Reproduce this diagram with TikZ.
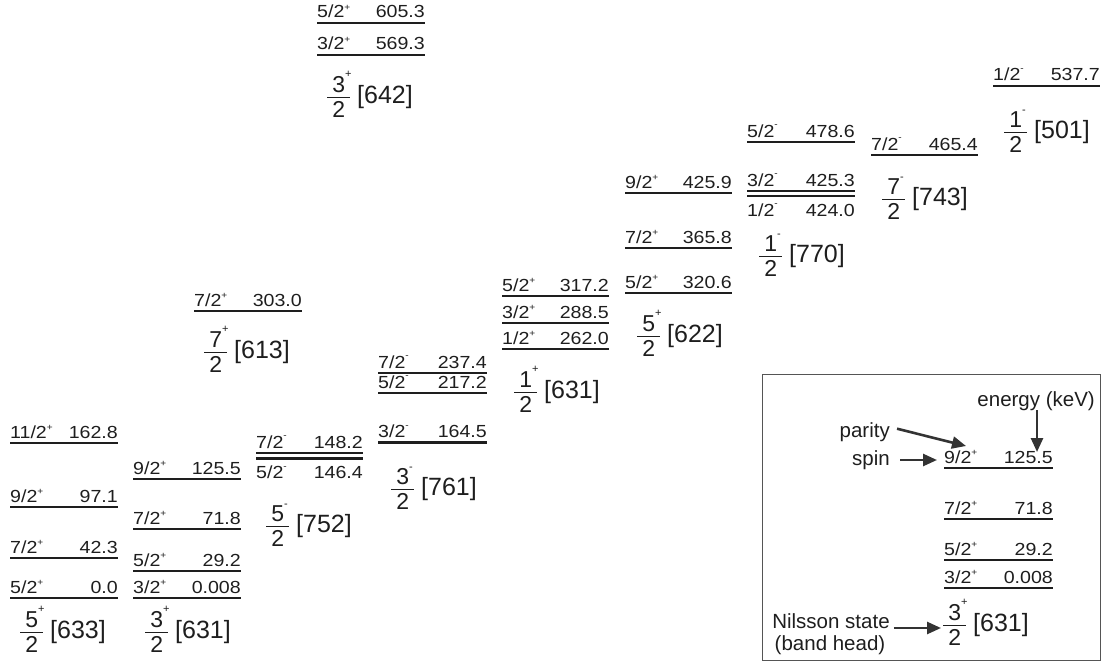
\documentclass[tikz,border=0pt]{standalone}
\usepackage{fontspec}
\setmainfont{Liberation Sans}
\newfontfamily\lvfont[FakeStretch=1.12]{Liberation Sans}
\usetikzlibrary{arrows.meta}
\definecolor{ink}{HTML}{1E1E1E}
\definecolor{arr}{HTML}{333333}
\definecolor{frame}{HTML}{555555}
\tikzset{
  lvl/.style={draw=ink, line width=2.6pt},
  lab/.style={inner sep=0pt, text=ink, font=\lvfont\fontsize{17.5}{20}\selectfont},
  nil/.style={inner sep=0pt, text=ink, anchor=base west},
  note/.style={inner sep=0pt, text=ink, font=\fontsize{20.5}{24}\selectfont},
  pointer/.style={draw=arr, line width=2.6pt, -{Triangle[length=14pt,width=12pt]}},
  frm/.style={draw=frame, line width=1pt},
}
\newcommand\parP{\raisebox{7.5pt}{\fontsize{9}{9}\selectfont +}}
\newcommand\parM{\raisebox{9.5pt}{\fontsize{9}{9}\selectfont -}}
\newcommand\nP{\smash{\raisebox{15pt}{\fontsize{11}{11}\selectfont +}}}
\newcommand\nM{\smash{\raisebox{14pt}{\fontsize{11}{11}\selectfont -}}}
\newcommand\nils[3]{%
  \raisebox{-14.5pt}{\vbox{\offinterlineskip\hsize=23pt
    \hbox to 23pt{\hss\fontsize{23}{23}\selectfont #1\rlap{#2}\hss}%
    \kern4pt\hrule height 1pt\kern3.5pt
    \hbox to 23pt{\hss\fontsize{23}{23}\selectfont 2\hss}}}%
  \kern7pt{\fontsize{25}{28}\selectfont[#3]}}
% level with text above: name, x1, x2, y, spin, energy
\newcommand\lev[6]{%
  \coordinate (#1a) at (#2,#4);
  \coordinate (#1b) at (#3,#4);
  \draw[lvl] (#1a) -- (#1b);
  \node[lab,anchor=base west] (#1s) at ([yshift=5pt]#1a) {#5};
  \node[lab,anchor=base east] (#1e) at ([yshift=5pt]#1b) {#6};}
% level with text below
\newcommand\levb[6]{%
  \coordinate (#1a) at (#2,#4);
  \coordinate (#1b) at (#3,#4);
  \draw[lvl] (#1a) -- (#1b);
  \node[lab,anchor=base west] (#1s) at ([yshift=-20pt]#1a) {#5};
  \node[lab,anchor=base east] (#1e) at ([yshift=-20pt]#1b) {#6};}
\begin{document}
\begin{tikzpicture}[x=1pt,y=-1pt]
\useasboundingbox (0,0) rectangle (1107,666);
% column A: 5/2+[633]
\lev{A1}{10}{118}{443}{11/2\parP}{162.8}
\lev{A2}{10}{118}{507}{9/2\parP}{97.1}
\lev{A3}{10}{118}{558}{7/2\parP}{42.3}
\lev{A4}{10}{118}{598}{5/2\parP}{0.0}
\node[nil] (N633) at (20,638) {\nils{5}{\nP}{633}};
% column B: 3/2+[631]
\lev{B1}{133}{241}{479}{9/2\parP}{125.5}
\lev{B2}{133}{241}{529}{7/2\parP}{71.8}
\lev{B3}{133}{241}{571}{5/2\parP}{29.2}
\lev{B4}{133}{241}{598}{3/2\parP}{0.008}
\node[nil] (N631b) at (145,638) {\nils{3}{\nP}{631}};
% column C: 5/2-[752]
\lev{C1}{256}{363}{453}{7/2\parM}{148.2}
\levb{C2}{256}{363}{458.5}{5/2\parM}{146.4}
\node[nil] (N752) at (266,532) {\nils{5}{\nM}{752}};
% column D: 3/2-[761]
\lev{D1}{378}{487}{373}{7/2\parM}{237.4}
\lev{D2}{378}{487}{393}{5/2\parM}{217.2}
\lev{D3}{378}{487}{442.5}{3/2\parM}{164.5}
\node[nil] (N761) at (391,495) {\nils{3}{\nM}{761}};
% 7/2+[613]
\lev{E1}{194}{302}{311}{7/2\parP}{303.0}
\node[nil] (N613) at (204,358) {\nils{7}{\nP}{613}};
% 3/2+[642]
\lev{T1}{317}{425}{23}{5/2\parP}{605.3}
\lev{T2}{317}{425}{55}{3/2\parP}{569.3}
\node[nil] (N642) at (327,103) {\nils{3}{\nP}{642}};
% 1/2+[631]
\lev{F1}{502}{609}{296}{5/2\parP}{317.2}
\lev{F2}{502}{609}{323}{3/2\parP}{288.5}
\lev{F3}{502}{609}{349}{1/2\parP}{262.0}
\node[nil] (N631f) at (514,398) {\nils{1}{\nP}{631}};
% 5/2+[622]
\lev{G1}{625}{732}{193}{9/2\parP}{425.9}
\lev{G2}{625}{732}{248}{7/2\parP}{365.8}
\lev{G3}{625}{732}{293}{5/2\parP}{320.6}
\node[nil] (N622) at (637,342) {\nils{5}{\nP}{622}};
% 1/2-[770]
\lev{H1}{747}{855}{142}{5/2\parM}{478.6}
\lev{H2}{747}{855}{191}{3/2\parM}{425.3}
\levb{H3}{747}{855}{196}{1/2\parM}{424.0}
\node[nil] (N770) at (759,262) {\nils{1}{\nM}{770}};
% 7/2-[743]
\lev{I1}{871}{978}{155}{7/2\parM}{465.4}
\node[nil] (N743) at (882,205) {\nils{7}{\nM}{743}};
% 1/2-[501]
\lev{J1}{993}{1100}{86}{1/2\parM}{537.7}
\node[nil] (N501) at (1004,138) {\nils{1}{\nM}{501}};
% legend
\draw[frm] (762,374) rectangle (1100,660);
\lev{L1}{944}{1053}{468}{9/2\parP}{125.5}
\lev{L2}{944}{1053}{519}{7/2\parP}{71.8}
\lev{L3}{944}{1053}{560}{5/2\parP}{29.2}
\lev{L4}{944}{1053}{588}{3/2\parP}{0.008}
\node[nil] (Nleg) at (943,631) {\nils{3}{\nP}{631}};
\node[note,anchor=base east] (energy) at (1095,406) {energy (keV)};
\node[note,anchor=base east] (parity) at (890,437) {parity};
\node[note,anchor=base east] (spin) at (890,465) {spin};
\node[note,anchor=base] (nilssonA) at (831,628) {Nilsson state};
\node[note,anchor=base] (nilssonB) at (830,650) {(band head)};
\coordinate (eTop) at (1037,410);
\coordinate (eTip) at (1037,452);
\coordinate (pTip) at (966,446);
\coordinate (sTip) at (937,460);
\coordinate (nTip) at (941,628);
\draw[pointer] (eTop) -- (eTip);
\draw[pointer] ([shift={(7pt,3pt)}]parity.east) -- (pTip);
\draw[pointer] ([xshift=10pt]spin.east |- sTip) -- (sTip);
\draw[pointer] ([xshift=4pt]nilssonA.east |- nTip) -- (nTip);
\end{tikzpicture}
\end{document}
